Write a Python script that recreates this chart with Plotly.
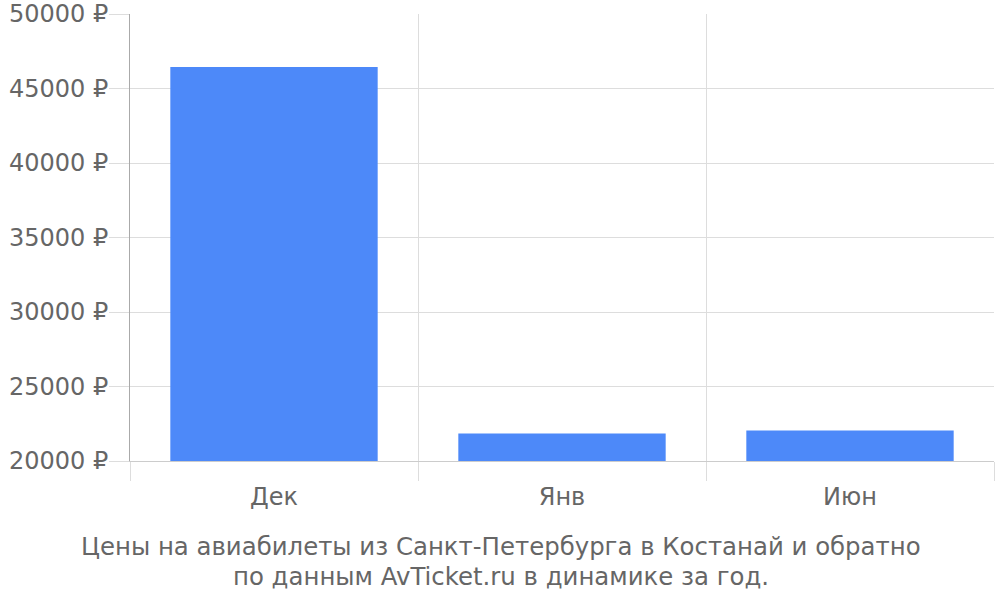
import plotly.graph_objects as go

# flight prices St. Petersburg <-> Kostanay, by month
months = ["Дек", "Янв", "Июн"]
prices = [46450, 21850, 22050]

y_ticks = [20000, 25000, 30000, 35000, 40000, 45000, 50000]
y_labels = [f"{v} ₽" for v in y_ticks]

title_lines = [
    "Цены на авиабилеты из Санкт-Петербурга в Костанай и обратно",
    "по данным AvTicket.ru в динамике за год.",
]

FONT = "DejaVu Sans"
TEXT_COLOR = "#666666"
GRID = "#dddddd"
FS = 24

fig = go.Figure(
    go.Bar(x=months, y=prices, marker=dict(color="#4d89f9", line=dict(width=0)))
)

fig.update_layout(
    width=1000,
    height=600,
    margin=dict(l=130, r=6, t=14, b=139),
    paper_bgcolor="white",
    plot_bgcolor="white",
    bargap=0.28,
    showlegend=False,
    font=dict(family=FONT, size=FS, color=TEXT_COLOR),
)

fig.update_xaxes(
    type="category",
    tickson="boundaries",
    ticks="outside",
    ticklen=19,
    tickcolor=GRID,
    showgrid=True,
    gridcolor=GRID,
    showline=True,
    linecolor="#cccccc",
    automargin=False,
    ticklabelstandoff=14,
    tickfont=dict(size=FS, color=TEXT_COLOR),
)

fig.update_yaxes(
    range=[20000, 50000],
    tickvals=y_ticks,
    ticktext=y_labels,
    ticks="outside",
    ticklen=20,
    tickcolor=GRID,
    showgrid=True,
    gridcolor=GRID,
    showline=True,
    linecolor="#aaaaaa",
    zeroline=False,
    automargin=False,
    ticklabelstandoff=-4,
    tickfont=dict(size=FS, color=TEXT_COLOR),
)

# two-line caption under the chart, centred on the page
for line, y in zip(title_lines, [-0.1913, -0.2584]):
    fig.add_annotation(
        text=line, xref="paper", yref="paper", x=0.4294, y=y,
        xanchor="center", yanchor="middle", showarrow=False,
        font=dict(family=FONT, size=24.4, color=TEXT_COLOR),
    )

# drop the default body margin so the figure sits at the page corner
fig.write_html(
    "out.html",
    config={"displayModeBar": False},
    post_script="document.body.style.margin = '0';",
)
